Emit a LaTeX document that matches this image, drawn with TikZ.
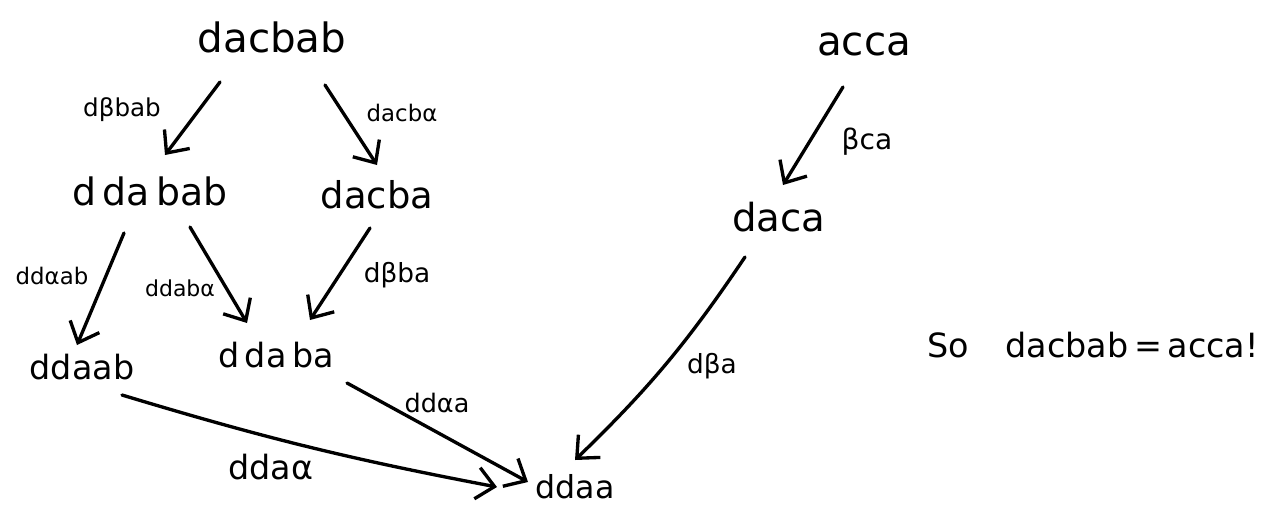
\documentclass[tikz,border=0pt]{standalone}
\usepackage{fontspec}
\setmainfont{DejaVu Sans}
\usetikzlibrary{arrows.meta}
\newcommand\fsz[1]{\fontsize{#1}{#1}\selectfont}
\tikzset{
  term/.style={inner sep=0pt, font=\fsz{23}},
  lbl/.style={inner sep=0pt, font=\fsz{14}},
  arr/.style={line width=1.9pt, line cap=round, line join=round,
    -{Straight Barb[length=10pt,width=18pt,line width=1.9pt]}},
}
\begin{document}
\begin{tikzpicture}[x=0.02cm, y=-0.02cm]
\useasboundingbox (0,0) rectangle (1267,518);
% terms
\node[term] (dacbab) at (272,37) {dacbab};
\node[term] (acca) at (864,44) {acca};
\node[term, font=\fsz{21.5}] (ddabab) at (150,191) {d\,da\,bab};
\node[term, font=\fsz{21}] (dacba) at (377,195) {dacba};
\node[term, font=\fsz{22}] (daca) at (779,217) {daca};
\node[term, font=\fsz{19}] (ddaab) at (82,367) {ddaab};
\node[term, font=\fsz{19}] (ddaba) at (276,355) {d\,da\,ba};
\node[term, font=\fsz{18}] (ddaa) at (575,487) {ddaa};
\node[term, font=\fsz{19}] (so) at (1093,345) {So\hspace{1.1em}dacbab\,=\,acca!};
% labels
\node[lbl] (l1) at (122,110) {dβbab};
\node[lbl, font=\fsz{13}] (l2) at (402,113) {dacbα};
\node[lbl, font=\fsz{16}] (l3) at (867,142) {βca};
\node[lbl, font=\fsz{13}] (l4) at (52,276) {ddαab};
\node[lbl, font=\fsz{12.5}] (l5) at (180,288) {ddabα};
\node[lbl, font=\fsz{15}] (l6) at (397,275) {dβba};
\node[lbl, font=\fsz{14.5}] (l7) at (437,403) {ddαa};
\node[lbl, font=\fsz{19}] (l8) at (271,467) {ddaα};
\node[lbl, font=\fsz{15}] (l9) at (712,366) {dβa};
% arrows
\draw[arr] ([shift={(-52,45)}]dacbab.center) -- ([shift={(15,-36)}]ddabab.center);
\draw[arr] ([shift={(53,48)}]dacbab.center) -- ([shift={(0,-30)}]dacba.center);
\draw[arr] ([shift={(-21,43)}]acca.center) -- ([shift={(4,-32)}]daca.center);
\draw[arr] ([shift={(-26,42)}]ddabab.center) -- ([shift={(-5,-22)}]ddaab.center);
\draw[arr] ([shift={(40,36)}]ddabab.center) -- ([shift={(-29,-32)}]ddaba.center);
\draw[arr] ([shift={(-7,33)}]dacba.center) -- ([shift={(34,-35)}]ddaba.center);
\draw[arr] ([shift={(-34,40)}]daca.center) to[bend left=6] ([shift={(0,-27)}]ddaa.center);
\draw[arr] ([shift={(40,28)}]ddaab.center) to[bend right=3] ([shift={(-78,0)}]ddaa.center);
\draw[arr] ([shift={(71,28)}]ddaba.center) -- ([shift={(-47,-5)}]ddaa.center);
\end{tikzpicture}
\end{document}
